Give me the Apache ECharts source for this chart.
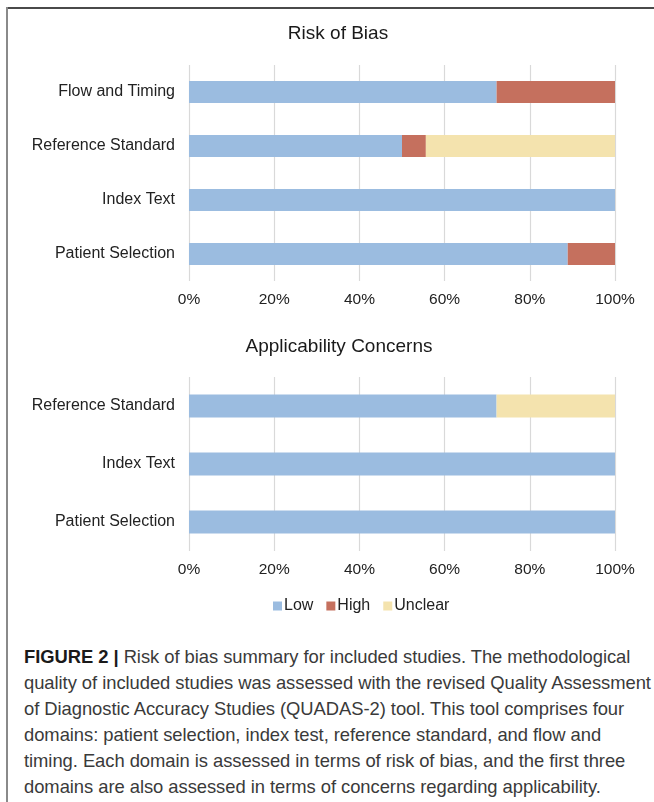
<!DOCTYPE html>
<html>
<head>
<meta charset="utf-8">
<script src="https://cdn.jsdelivr.net/npm/echarts@6/dist/echarts.min.js"></script>
<style>
  html, body { margin: 0; padding: 0; background: #fff; }
  #wrap { position: relative; width: 654px; height: 802px; overflow: hidden; }
  #frameTop { position: absolute; left: 6px; top: 7px; width: 648px; height: 2px; background: #4a4a4a; }
  #frameLeft { position: absolute; left: 6px; top: 7px; width: 2px; height: 795px; background: #8a8a8a; }
  #chart { position: absolute; left: 0; top: 0; width: 654px; height: 630px; }
  #caption { position: absolute; left: 24px; top: 644px; width: 630px;
    font-family: "Liberation Sans", Arial, sans-serif; font-size: 18.4px; line-height: 26px;
    color: #3a3a3a; white-space: nowrap; letter-spacing: -0.05px; }
  #caption b { color: #1a1a1a; }
</style>
</head>
<body>
<div id="wrap">
  <div id="frameTop"></div>
  <div id="frameLeft"></div>
  <div id="chart"></div>
  <div id="caption"><b>FIGURE 2 |</b> Risk of bias summary for included studies. The methodological<br>quality of included studies was assessed with the revised Quality Assessment<br>of Diagnostic Accuracy Studies (QUADAS-2) tool. This tool comprises four<br>domains: patient selection, index test, reference standard, and flow and<br>timing. Each domain is assessed in terms of risk of bias, and the first three<br>domains are also assessed in terms of concerns regarding applicability.</div>
</div>
<script>
// Risk of Bias (bottom-to-top order)
const biasCategories = ['Patient Selection', 'Index Text', 'Reference Standard', 'Flow and Timing'];
const biasLow = [88.9, 100, 50.0, 72.2];
const biasHigh = [11.1, 0, 5.6, 27.8];
const biasUnclear = [0, 0, 44.4, 0];

// Applicability Concerns (bottom-to-top order)
const applCategories = ['Patient Selection', 'Index Text', 'Reference Standard'];
const applLow = [100, 100, 72.2];
const applHigh = [0, 0, 0];
const applUnclear = [0, 0, 27.8];

const xTicks = [0, 20, 40, 60, 80, 100];
const seriesNames = ['Low', 'High', 'Unclear'];
const colors = ['#9bbce0', '#c5705e', '#f4e3ae'];

const FONT = '"Liberation Sans", Arial, sans-serif';
const chart = echarts.init(document.getElementById('chart'), null, { renderer: 'canvas' });

function valueAxis(gridIndex) {
  return {
    type: 'value', gridIndex: gridIndex,
    min: xTicks[0], max: xTicks[xTicks.length - 1], interval: xTicks[1] - xTicks[0],
    axisLine: { show: false }, axisTick: { show: false },
    splitLine: { show: true, lineStyle: { color: '#d9d9d9', width: 1.2 } },
    axisLabel: { formatter: '{value}%', fontSize: 15.5, color: '#222', fontFamily: FONT, margin: 11 }
  };
}
function catAxis(gridIndex, cats) {
  return {
    type: 'category', gridIndex: gridIndex, data: cats,
    axisLine: { show: false }, axisTick: { show: false }, splitLine: { show: false },
    axisLabel: { fontSize: 16, color: '#222', fontFamily: FONT, margin: 14 }
  };
}
function mk(name, data, idx, color, bw) {
  return {
    name: name, type: 'bar', stack: 'g' + idx, xAxisIndex: idx, yAxisIndex: idx,
    data: data, barWidth: bw, itemStyle: { color: color }, silent: true, animation: false
  };
}

chart.setOption({
  animation: false,
  textStyle: { fontFamily: FONT },
  grid: [
    { left: 189, right: 39, top: 65, height: 216 },
    { left: 189, right: 39, top: 377, height: 174 }
  ],
  xAxis: [valueAxis(0), valueAxis(1)],
  yAxis: [catAxis(0, biasCategories), catAxis(1, applCategories)],
  legend: {
    data: seriesNames, left: 268, top: 593, icon: 'rect', itemWidth: 9, itemHeight: 9, itemGap: 13,
    textStyle: { fontSize: 16, color: '#222', fontFamily: FONT, padding: [0, 0, 0, -3] }
  },
  graphic: [
    { type: 'text', x: 338, y: 34, style: { text: 'Risk of Bias', fontSize: 19, fill: '#1a1a1a', fontFamily: FONT, align: 'center', verticalAlign: 'middle' } },
    { type: 'text', x: 339, y: 347, style: { text: 'Applicability Concerns', fontSize: 19, fill: '#1a1a1a', fontFamily: FONT, align: 'center', verticalAlign: 'middle' } }
  ],
  series: [
    mk(seriesNames[0], biasLow, 0, colors[0], 22),
    mk(seriesNames[1], biasHigh, 0, colors[1], 22),
    mk(seriesNames[2], biasUnclear, 0, colors[2], 22),
    mk(seriesNames[0], applLow, 1, colors[0], 23),
    mk(seriesNames[1], applHigh, 1, colors[1], 23),
    mk(seriesNames[2], applUnclear, 1, colors[2], 23)
  ]
});
</script>
</body>
</html>
